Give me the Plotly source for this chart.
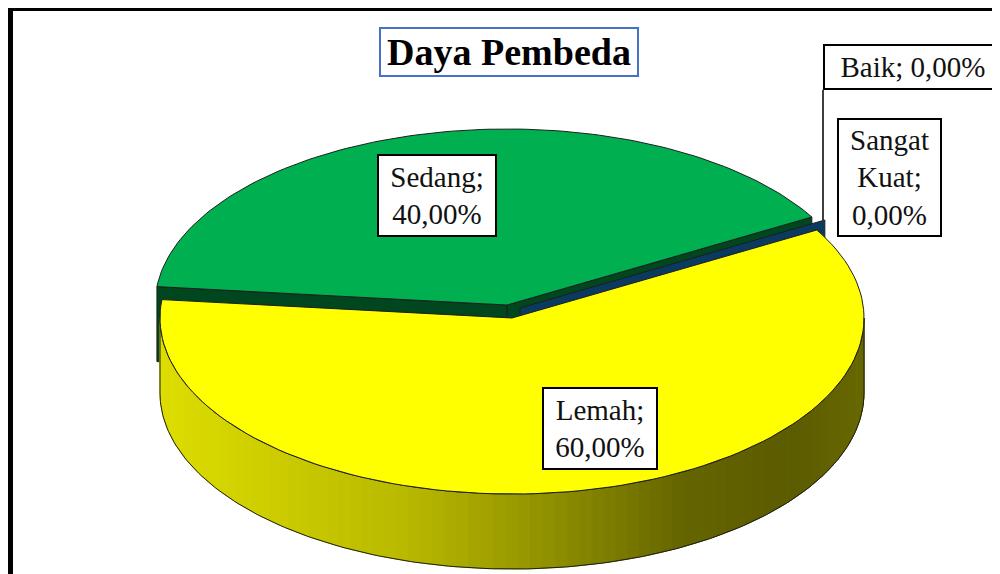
import numpy as np
import plotly.graph_objects as go

categories = ["Lemah", "Sedang", "Baik", "Sangat Kuat"]
percentages = [60.0, 40.0, 0.0, 0.0]
label_names = ["Lemah;<br>", "Sedang;<br>", "Baik; ", "Sangat<br>Kuat;<br>"]
chart_title = "Daya Pembeda"

top_colors = {"Lemah": "#FFFF00", "Sedang": "#00B050", "Baik": "#1F4E79", "Sangat Kuat": "#0B3D66"}
side_colors = {"Lemah": "#9C9C00", "Sedang": "#004720", "Baik": "#0E3C66", "Sangat Kuat": "#0B3A60"}

# 3D pie geometry (page pixel space)
CX, CY = 512, 318
RX, RY = 352, 176
DEPTH = 75
START = 30  # degrees, slices go clockwise
explode = {"Lemah": (0, 0), "Sedang": (-5, -13), "Baik": (8, -10), "Sangat Kuat": (8, -10)}
# label box: centre x, centre y, text width, text height
label_box = {
    "Lemah": (600, 428, 106, 73),
    "Sedang": (437, 195, 110, 73),
    "Baik": (823, 67, 170, 36),
    "Sangat Kuat": (889, 177, 95, 109),
}
OUTLINE = "#1e1e1e"
FONT = "Times New Roman, Liberation Serif, DejaVu Serif, serif"
PAGE_OFFSET = 8  # default body margin of the html page

# side wall shading from left to right
wall_stops = [(0.0, 222), (0.35, 185), (0.55, 145), (0.75, 100), (0.9, 92), (1.0, 104)]


def wall_color(x):
    t = (x - (CX - RX)) / (2 * RX)
    t = min(max(t, 0), 1)
    v = np.interp(t, [s[0] for s in wall_stops], [s[1] for s in wall_stops])
    return f"rgb({int(v)},{int(v)},0)"


def rim(cx, cy, ang):
    a = np.radians(ang)
    return cx + RX * np.cos(a), cy - RY * np.sin(a)


def pct(v):
    return f"{v:.2f}".replace(".", ",") + "%"


# slice angles
angles = {}
a = START
for cat, p in zip(categories, percentages):
    angles[cat] = (a, a - 360 * p / 100)
    a = a - 360 * p / 100


def front_range(a0, a1):
    for k in (-360, 0, 360):
        lo, hi = max(a1, -180 + k), min(a0, k)
        if hi > lo:
            return lo, hi
    return None


def poly(xs, ys, fill, line_color=OUTLINE, width=1):
    return go.Scatter(
        x=list(xs) + [xs[0]], y=list(ys) + [ys[0]], mode="lines", fill="toself",
        fillcolor=fill, line=dict(color=line_color, width=width), hoverinfo="skip",
    )


def radial_face(cat, ang):
    ox, oy = explode[cat]
    cx, cy = CX + ox, CY + oy
    rx_, ry_ = rim(cx, cy, ang)
    return poly([cx, rx_, rx_, cx], [cy, ry_, ry_ + DEPTH, cy + DEPTH], side_colors[cat])


def top_face(cat):
    ox, oy = explode[cat]
    cx, cy = CX + ox, CY + oy
    a0, a1 = angles[cat]
    t = np.linspace(a0, a1, 120)
    px, py = rim(cx, cy, t)
    return poly([cx, *px], [cy, *py], top_colors[cat])


def front_wall(cat):
    traces = []
    rng = front_range(*angles[cat])
    if rng is None:
        return traces
    ox, oy = explode[cat]
    cx, cy = CX + ox, CY + oy
    edges = np.linspace(rng[0], rng[1], 90)
    for s0, s1 in zip(edges[:-1], edges[1:]):
        t = np.linspace(s0, s1, 4)
        px, py = rim(cx, cy, t)
        col = wall_color(px.mean())
        traces.append(poly([*px, *px[::-1]], [*py, *(py[::-1] + DEPTH)], col, line_color=col, width=1))
    t = np.linspace(rng[0], rng[1], 200)
    px, py = rim(cx, cy, t)
    traces.append(go.Scatter(
        x=[*px, *px[::-1], px[0]], y=[*py, *(py[::-1] + DEPTH), py[0]], mode="lines",
        line=dict(color=OUTLINE, width=1), hoverinfo="skip",
    ))
    return traces


traces = []
# back (exploded) slice first
traces.append(radial_face("Sedang", angles["Sedang"][1]))
traces.append(radial_face("Sedang", angles["Sedang"][0]))
traces.append(top_face("Sedang"))
# zero-value slices show only their cut face
traces.append(radial_face("Sangat Kuat", angles["Sangat Kuat"][0]))
traces += front_wall("Lemah")
traces.append(top_face("Lemah"))

fig = go.Figure(data=traces)

annotations = []
for cat, p, name in zip(categories, percentages, label_names):
    x, y, w, h = label_box[cat]
    annotations.append(dict(
        x=x, y=y, xref="x", yref="y", text=name + pct(p), showarrow=False,
        xanchor="left" if cat == "Baik" else "center", yanchor="middle",
        width=w, height=h, valign="middle",
        font=dict(family=FONT, size=29, color="#111111"), align="center",
        bgcolor="white", bordercolor="black", borderwidth=2, borderpad=3,
    ))
annotations.append(dict(
    x=509, y=52, xref="x", yref="y", text=f"<b>{chart_title}</b>", showarrow=False,
    width=252, font=dict(family=FONT, size=38, color="black"), bgcolor="white",
    bordercolor="#4472C4", borderwidth=2, borderpad=2,
))

# leader line from Baik label to its (zero) slice
bx, by = rim(CX + explode["Baik"][0], CY + explode["Baik"][1], angles["Baik"][0])
shapes = [
    dict(type="line", xref="x", yref="y", x0=823, y0=90, x1=823, y1=by, line=dict(color="black", width=1.5)),
    dict(type="rect", xref="x", yref="y", x0=10.5, y0=8.5, x1=1010, y1=600, line=dict(color="black", width=5)),
]

fig.update_layout(
    width=1000, height=574, showlegend=False,
    margin=dict(l=0, r=0, t=0, b=0),
    paper_bgcolor="white", plot_bgcolor="white",
    xaxis=dict(range=[PAGE_OFFSET, 1000 + PAGE_OFFSET], visible=False, fixedrange=True),
    yaxis=dict(range=[574 + PAGE_OFFSET, PAGE_OFFSET], visible=False, fixedrange=True),
    annotations=annotations, shapes=shapes,
)

fig.write_html("out.html")
